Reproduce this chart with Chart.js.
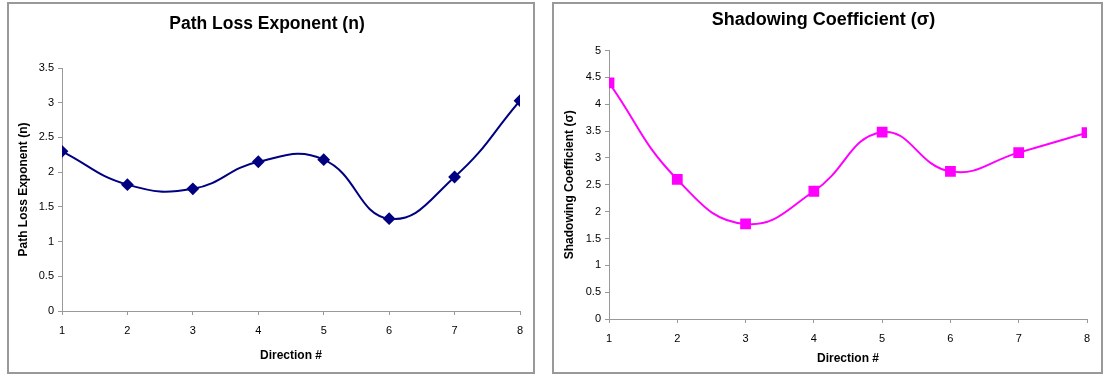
<!DOCTYPE html>
<html>
<head>
<meta charset="utf-8">
<script src="https://cdn.jsdelivr.net/npm/chart.js@4"></script>
<style>
  body { margin: 0; background: #fff; }
  .box { position: absolute; border: 2px solid #999; background: #fff; box-sizing: border-box; }
  #box1 { left: 7px; top: 2px; width: 528px; height: 372px; }
  #box2 { left: 552px; top: 2px; width: 551px; height: 372px; }
</style>
</head>
<body>
<div class="box" id="box1"><canvas id="chartN"></canvas></div>
<div class="box" id="box2"><canvas id="chartSigma"></canvas></div>
<script>
const directions = [1, 2, 3, 4, 5, 6, 7, 8];
const pathLossN = [2.3, 1.82, 1.76, 2.15, 2.18, 1.33, 1.93, 3.03];
const shadowingSigma = [4.4, 2.6, 1.77, 2.38, 3.48, 2.75, 3.1, 3.47];

const FONT = "'Liberation Sans', Arial, sans-serif";
Chart.defaults.font.family = FONT;
Chart.defaults.color = '#000';

const makeChart = (id, values, opts) => {
    const ctx = document.getElementById(id);
    return new Chart(ctx, {
        type: 'line',
        data: {
            datasets: [{
                data: directions.map((d, i) => ({ x: d, y: values[i] })),
                borderColor: opts.color,
                backgroundColor: opts.color,
                borderWidth: 2,
                tension: 0.45,
                pointStyle: opts.pointStyle,
                pointRadius: opts.pointRadius,
                pointHoverRadius: opts.pointRadius
            }]
        },
        options: {
            responsive: false,
            animation: false,
            layout: { padding: opts.padding },
            plugins: {
                legend: { display: false },
                tooltip: { enabled: false },
                title: {
                    display: true,
                    text: opts.title,
                    font: { size: opts.titleSize, weight: 'bold' },
                    padding: opts.titlePadding
                }
            },
            scales: {
                x: {
                    type: 'linear',
                    min: 1, max: 8,
                    ticks: { stepSize: 1, font: { size: 11 }, padding: 9 },
                    grid: { drawOnChartArea: false, color: '#999', tickLength: 4 },
                    border: { color: '#999', width: 1 },
                    title: { display: true, text: 'Direction #', font: { size: 12, weight: 'bold' }, padding: { top: 4, bottom: opts.xTitleBottom } },
                    afterFit: s => { s.height = opts.xHeight; }
                },
                y: {
                    min: 0, max: opts.yMax,
                    ticks: { stepSize: 0.5, font: { size: 11 }, padding: 4, callback: v => String(v) },
                    grid: { drawOnChartArea: false, color: '#999', tickLength: 4 },
                    border: { color: '#999', width: 1 },
                    title: { display: true, text: opts.yTitle, font: { size: 12, weight: 'bold' }, padding: 2 },
                    afterFit: s => { s.width = opts.yWidth; }
                }
            }
        }
    });
};

const c1 = document.getElementById('chartN');
c1.width = 524; c1.height = 368;
const c2 = document.getElementById('chartSigma');
c2.width = 547; c2.height = 368;

makeChart('chartN', pathLossN, {
    color: '#000080',
    pointStyle: 'rectRot',
    pointRadius: 5,
    title: 'Path Loss Exponent (n)',
    titleSize: 17.5,
    titlePadding: { top: 10, bottom: 33 },
    yTitle: 'Path Loss Exponent (n)',
    yMax: 3.5,
    padding: { left: 5, right: 13, top: 0, bottom: 0 },
    yWidth: 48,
    xHeight: 61,
    xTitleBottom: 9
});

makeChart('chartSigma', shadowingSigma, {
    color: '#FF00FF',
    pointStyle: 'rect',
    pointRadius: 6.2,
    title: 'Shadowing Coefficient (\u03C3)',
    titleSize: 18,
    titlePadding: { top: 5, bottom: 20 },
    yTitle: 'Shadowing Coefficient (\u03C3)',
    yMax: 5,
    padding: { left: 6, right: 14, top: 0, bottom: 0 },
    yWidth: 49,
    xHeight: 53,
    xTitleBottom: 6
});
</script>
</body>
</html>
